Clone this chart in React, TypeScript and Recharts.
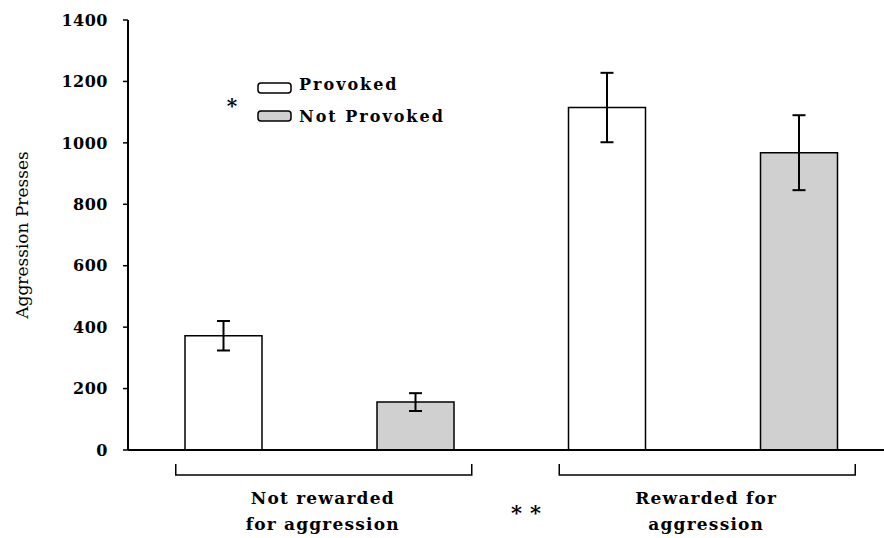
import React from 'react';
import { BarChart, Bar, XAxis, YAxis, ErrorBar, Legend } from 'recharts';

const FONT = '"DejaVu Serif", serif';

const groups = ['Not rewarded for aggression', 'Rewarded for aggression'];
const groupLines = [
  ['Not rewarded', 'for aggression'],
  ['Rewarded for', 'aggression'],
];
const seriesNames = ['Provoked', 'Not Provoked'];
const seriesFills = ['#ffffff', '#d0d0d0'];
const provoked = [372, 1115];
const provokedErr = [48, 113];
const notProvoked = [156, 968];
const notProvokedErr = [29, 122];
const yTicks = [0, 200, 400, 600, 800, 1000, 1200, 1400];
const yLabel = 'Aggression Presses';
const legendMark = '*';
const groupMark = '**';

const data = groups.map((g, i) => ({
  group: g,
  provoked: provoked[i],
  provokedErr: provokedErr[i],
  notProvoked: notProvoked[i],
  notProvokedErr: notProvokedErr[i],
}));

const GroupTick = (props: any) => {
  const { x, y, index } = props;
  const lines = groupLines[index] || [];
  return (
    <g>
      <path
        d={`M${x - 144},${y + 14} V${y + 25} H${x + 152} V${y + 14}`}
        fill="none"
        stroke="#000"
        strokeWidth={1.5}
      />
      <text x={x + 3} y={y + 54} textAnchor="middle" fontFamily={FONT} fontSize={17} fontWeight="bold" letterSpacing={1.2} fill="#000">
        {lines[0]}
      </text>
      <text x={x + 3} y={y + 80} textAnchor="middle" fontFamily={FONT} fontSize={17} fontWeight="bold" letterSpacing={1.2} fill="#000">
        {lines[1]}
      </text>
    </g>
  );
};

const renderLegend = (props: any) => {
  const payload = [...(props.payload || [])].sort(
    (a: any, b: any) => seriesNames.indexOf(a.value) - seriesNames.indexOf(b.value)
  );
  return (
    <svg width={884} height={140} style={{ position: 'absolute', left: 0, top: 0, overflow: 'visible' }}>
      <text x={232} y={113} textAnchor="middle" fontFamily={FONT} fontSize={20} fontWeight="bold" fill="#000">
        {legendMark}
      </text>
      {payload.map((entry: any, i: number) => (
        <g key={i}>
          <rect
            x={258}
            y={i === 0 ? 83 : 111}
            width={33}
            height={10}
            rx={3}
            fill={seriesFills[seriesNames.indexOf(entry.value)] ?? entry.color}
            stroke="#000"
            strokeWidth={1.5}
          />
          <text x={299} y={i === 0 ? 90 : 122} fontFamily={FONT} fontSize={16} fontWeight="bold" letterSpacing={2} fill="#000">
            {entry.value}
          </text>
        </g>
      ))}
    </svg>
  );
};

const renderYLabel = (props: any) => {
  const vb = props.viewBox || { x: 0, y: 0, width: 0, height: 0 };
  const cx = vb.x + 28;
  const cy = vb.y + vb.height / 2;
  return (
    <text
      x={cx}
      y={cy}
      textAnchor="middle"
      transform={`rotate(-90 ${cx} ${cy})`}
      fontFamily={FONT}
      fontSize={17}
      fill="#000"
    >
      {yLabel}
    </text>
  );
};

export default function App() {
  return (
    <div style={{ position: 'absolute', left: 0, top: 0, width: 884, height: 538, overflow: 'hidden', background: '#fff' }}>
      <BarChart
        width={895}
        height={538}
        data={data}
        margin={{ top: 20, right: 0, bottom: 0, left: 0 }}
        barGap={115}
        barSize={77}
      >
        <XAxis
          dataKey="group"
          height={88}
          interval={0}
          axisLine={{ stroke: '#000', strokeWidth: 2 }}
          tickLine={false}
          tickSize={0}
          tickMargin={0}
          tick={GroupTick}
        />
        <YAxis
          width={128}
          domain={[0, 1400]}
          ticks={yTicks}
          axisLine={{ stroke: '#000', strokeWidth: 2 }}
          tickLine={{ stroke: '#000', strokeWidth: 1.5 }}
          tickSize={5}
          tickMargin={15}
          tick={{ fill: '#000', fontSize: 16, fontWeight: 'bold', fontFamily: FONT, letterSpacing: 0.5 }}
          label={renderYLabel}
        />
        <Legend
          layout="vertical"
          align="center"
          verticalAlign="middle"
          wrapperStyle={{ left: 0, top: 0, width: 0, height: 0 }}
          content={renderLegend}
        />
        <Bar dataKey="provoked" name={seriesNames[0]} fill={seriesFills[0]} stroke="#000" strokeWidth={1.5} isAnimationActive={false}>
          <ErrorBar dataKey="provokedErr" width={6.5} stroke="#000" strokeWidth={2} direction="y" />
        </Bar>
        <Bar dataKey="notProvoked" name={seriesNames[1]} fill={seriesFills[1]} stroke="#000" strokeWidth={1.5} isAnimationActive={false}>
          <ErrorBar dataKey="notProvokedErr" width={6.5} stroke="#000" strokeWidth={2} direction="y" />
        </Bar>
      </BarChart>
      <svg width={884} height={538} style={{ position: 'absolute', left: 0, top: 0, pointerEvents: 'none' }}>
        <text x={511} y={520} fontFamily={FONT} fontSize={21} fontWeight="bold" letterSpacing={8} fill="#000">
          {groupMark}
        </text>
      </svg>
    </div>
  );
}
